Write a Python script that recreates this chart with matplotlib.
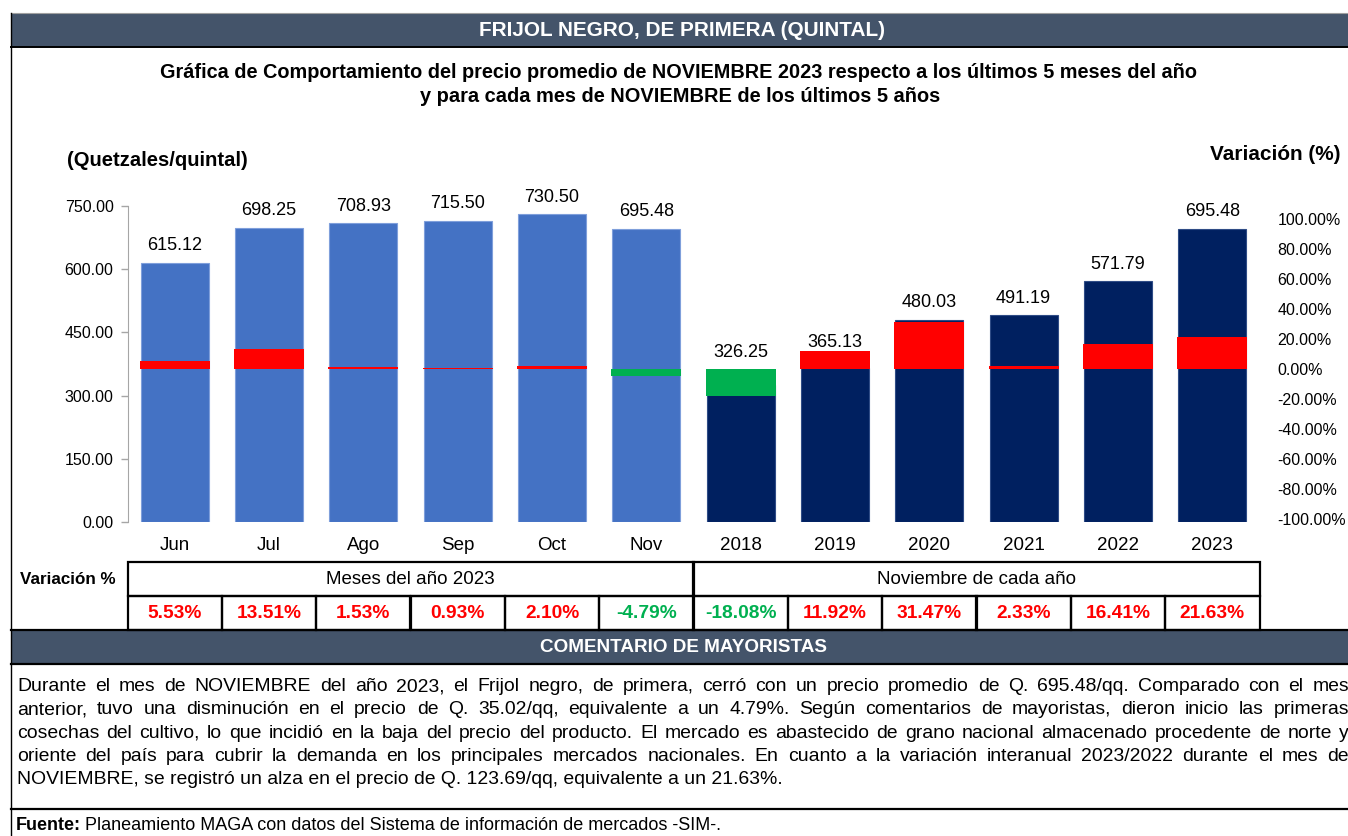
import matplotlib
matplotlib.use('Agg')
import matplotlib.pyplot as plt
import numpy as np
from matplotlib.patches import Rectangle
from matplotlib.lines import Line2D
from matplotlib.ticker import FormatStrFormatter
from matplotlib.transforms import blended_transform_factory

plt.rcParams['font.family'] = ['Liberation Sans', 'DejaVu Sans']

# data
categories = ['Jun', 'Jul', 'Ago', 'Sep', 'Oct', 'Nov',
              '2018', '2019', '2020', '2021', '2022', '2023']
prices = [615.12, 698.25, 708.93, 715.50, 730.50, 695.48,
          326.25, 365.13, 480.03, 491.19, 571.79, 695.48]
variation = [5.53, 13.51, 1.53, 0.93, 2.10, -4.79,
             -18.08, 11.92, 31.47, 2.33, 16.41, 21.63]
n_months = 6
left_ticks = [0, 150, 300, 450, 600, 750]
right_ticks = list(range(-100, 101, 20))

title = 'FRIJOL NEGRO, DE PRIMERA (QUINTAL)'
subtitle1 = 'Gráfica de Comportamiento del precio promedio de NOVIEMBRE 2023 respecto a los últimos 5 meses del año'
subtitle2 = 'y para cada mes de NOVIEMBRE de los últimos 5 años'
group_labels = ['Meses del año 2023', 'Noviembre de cada año']
comment_lines = [
    'Durante el mes de NOVIEMBRE del año 2023, el Frijol negro, de primera, cerró con un precio promedio de Q. 695.48/qq. Comparado con el mes',
    'anterior, tuvo una disminución en el precio de Q. 35.02/qq, equivalente a un 4.79%. Según comentarios de mayoristas, dieron inicio las primeras',
    'cosechas del cultivo, lo que incidió en la baja del precio del producto. El mercado es abastecido de grano nacional almacenado procedente de norte y',
    'oriente del país para cubrir la demanda en los principales mercados nacionales. En cuanto a la variación interanual 2023/2022 durante el mes de',
    'NOVIEMBRE, se registró un alza en el precio de Q. 123.69/qq, equivalente a un 21.63%.',
]
source = 'Planeamiento MAGA con datos del Sistema de información de mercados -SIM-.'

BLUE = '#4472C4'
NAVY = '#002060'
RED = '#FF0000'
GREEN = '#00B050'
HEAD = '#44546A'

W, H = 1348, 836
fig = plt.figure(figsize=(W / 100, H / 100), dpi=100)
renderer = fig.canvas.get_renderer()

# pixel-space background axes for boxes and text
bg = fig.add_axes([0, 0, 1, 1])
bg.set_xlim(0, W)
bg.set_ylim(H, 0)
bg.axis('off')
bg.set_zorder(0)


def fit(x, y, s, w, **kw):
    t = bg.text(x, y, s, fontsize=10, **kw)
    t.set_fontsize(10 * w / t.get_window_extent(renderer).width)
    return t


# frame, header and comment band
bg.add_patch(Rectangle((11, 12.5), W, 34, facecolor=HEAD, edgecolor='none'))
bg.add_line(Line2D([11, W], [12.5, 12.5], color='#A0A0A0', lw=0.8))
bg.add_line(Line2D([11, W], [46.5, 46.5], color='black', lw=1.4))
bg.add_line(Line2D([11, 11], [12.5, H], color='black', lw=1.0))
bg.add_patch(Rectangle((11, 630), W, 33.5, facecolor=HEAD, edgecolor='none'))
bg.add_line(Line2D([11, W], [630, 630], color='black', lw=1.6))
bg.add_line(Line2D([11, W], [663.5, 663.5], color='black', lw=1.6))
bg.add_line(Line2D([11, W], [808.5, 808.5], color='black', lw=1.6))

fit(682, 30.5, title, 405, color='white', fontweight='bold', ha='center', va='center')
fit(679, 72, subtitle1, 1038, fontweight='bold', ha='center', va='center')
fit(680, 96, subtitle2, 520, fontweight='bold', ha='center', va='center')
fit(67, 160, '(Quetzales/quintal)', 181, fontweight='bold', ha='left', va='center')
fit(1340, 155, 'Variación (%)', 130, fontweight='bold', ha='right', va='center')
fit(683, 647, 'COMENTARIO DE MAYORISTAS', 286, color='white', fontweight='bold',
    ha='center', va='center')

# chart
x = np.arange(len(categories))
ax = fig.add_axes([127.5 / W, 1 - 522 / H, (1259.5 - 127.5) / W, (522 - 206) / H])
ax.set_zorder(1)
ax.patch.set_alpha(0)
colors = [BLUE] * n_months + [NAVY] * (len(categories) - n_months)
edges = ['#7F9FDB'] * n_months + ['#2F4C86'] * (len(categories) - n_months)
ax.bar(x, prices, width=0.72, color=colors, edgecolor=edges, linewidth=0.8)
ax.set_xlim(-0.5, len(categories) - 0.5)
ax.set_ylim(0, 750)
ax.set_yticks(left_ticks)
ax.yaxis.set_major_formatter(FormatStrFormatter('%.2f'))
ax.tick_params(axis='y', length=5, color='#A6A6A6', width=1, pad=5, labelsize=11.5)
ax.set_xticks(x)
ax.set_xticklabels(categories)
ax.tick_params(axis='x', length=0, pad=11, labelsize=13.5)
for s in ['top', 'right', 'bottom']:
    ax.spines[s].set_visible(False)
ax.spines['left'].set_color('#A6A6A6')

ax2 = ax.twinx()
ax2.set_zorder(2)
ax2.patch.set_alpha(0)
ax2.bar(x, variation, width=0.74,
        color=[RED if v > 0 else GREEN for v in variation], linewidth=0)
ylo2, yhi2 = -102, 108.67
ax2.set_ylim(ylo2, yhi2)
ax2.set_yticks(right_ticks)
ax2.yaxis.set_major_formatter(FormatStrFormatter('%.2f%%'))
ax2.tick_params(axis='y', length=0, pad=13, labelsize=11.5)
for s in ax2.spines.values():
    s.set_visible(False)

# value labels above the bars, kept clear of the variation bars
for i, (p, v) in enumerate(zip(prices, variation)):
    xd, top = ax.transData.transform((i, p))
    zero = ax2.transData.transform((i, 0))[1]
    vtop = ax2.transData.transform((i, max(v, 0)))[1]
    yd = max(top + 17, zero + 17, vtop + 9)
    fig.text(xd / W, yd / H, f'{p:.2f}', ha='center', va='center', fontsize=13)

# variation table
tr = blended_transform_factory(ax.transData, bg.transData)
lw = 1.6
for g in range(2):
    bg.add_patch(Rectangle((g * n_months - 0.5, 562), n_months, 34, transform=tr,
                           fill=False, edgecolor='black', lw=lw, clip_on=False))
    bg.text(g * n_months + (n_months - 1) / 2, 579, group_labels[g], transform=tr,
            ha='center', va='center', fontsize=13.5)
for i, v in enumerate(variation):
    bg.add_patch(Rectangle((i - 0.5, 596), 1, 34, transform=tr,
                           fill=False, edgecolor='black', lw=lw, clip_on=False))
    bg.text(i, 613, f'{v:.2f}%', transform=tr, ha='center', va='center',
            fontsize=13.8, fontweight='bold', color=RED if v > 0 else GREEN)
fit(68, 580, 'Variación %', 95, fontweight='bold', ha='center', va='center')

# comment paragraph, justified
x0, x1 = 17, 1349
probe = bg.text(0, 0, comment_lines[-1], fontsize=10)
fs = 10 * 764 / probe.get_window_extent(renderer).width
probe.remove()
base0, step = 691, 23.3
for k, line in enumerate(comment_lines):
    y = base0 + k * step
    if k == len(comment_lines) - 1:
        bg.text(x0, y, line, fontsize=fs, va='baseline', ha='left')
        continue
    words = line.split(' ')
    texts = [bg.text(0, y, w, fontsize=fs, va='baseline', ha='left') for w in words]
    widths = [t.get_window_extent(renderer).width for t in texts]
    gap = (x1 - x0 - sum(widths)) / (len(words) - 1)
    xx = x0
    for t, w in zip(texts, widths):
        t.set_x(xx)
        xx += w + gap

# source line
src = fit(80, 830, source, 717 - 80, va='baseline')
fb = bg.text(16, 830, 'Fuente:', fontsize=src.get_fontsize(), fontweight='bold',
             va='baseline')
src.set_x(16 + fb.get_window_extent(renderer).width + 4)

fig.savefig('out.png', dpi=100)
